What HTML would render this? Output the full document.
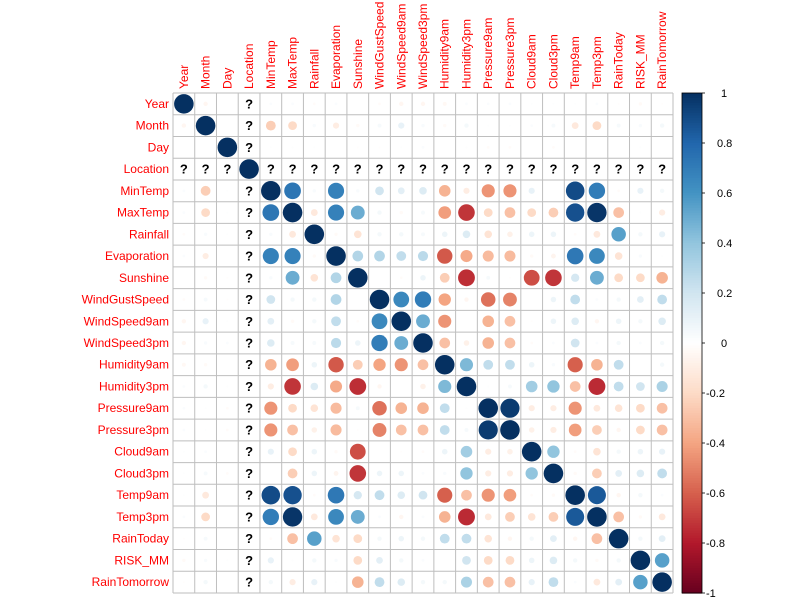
<!DOCTYPE html>
<html><head><meta charset="utf-8"><style>
body{margin:0;background:#fff;}
svg{display:block;font-family:"Liberation Sans",sans-serif;}
</style></head><body>
<svg id="c" width="800" height="600"></svg>
<script>
const vars=["Year","Month","Day","Location","MinTemp","MaxTemp","Rainfall","Evaporation","Sunshine","WindGustSpeed","WindSpeed9am","WindSpeed3pm","Humidity9am","Humidity3pm","Pressure9am","Pressure3pm","Cloud9am","Cloud3pm","Temp9am","Temp3pm","RainToday","RISK_MM","RainTomorrow"];
const lowerTri=[
[],
[-0.05],
[0,0],
[null,null,null],
[0.02,-0.25,0.01,null],
[0.02,-0.2,0.01,null,0.73],
[-0.02,0.03,0.01,null,0.03,-0.12],
[0.02,-0.1,0,null,0.68,0.68,-0.03],
[0,-0.03,-0.01,null,0.03,0.5,-0.15,0.3],
[-0.02,0.04,-0.01,null,0.2,0.05,0.05,0.3,0],
[-0.05,0.1,0.01,null,0.12,-0.03,0.05,0.25,-0.02,0.65],
[-0.05,0.03,0.02,null,0.15,0.04,0.04,0.27,0.08,0.7,0.5],
[-0.04,-0.03,0,null,-0.35,-0.42,0.08,-0.62,-0.25,-0.4,-0.45,-0.3],
[0.02,0.05,0.01,null,-0.1,-0.72,0.15,-0.38,-0.74,-0.05,0,-0.08,0.45],
[0.02,0.01,-0.02,null,-0.45,-0.2,-0.15,-0.32,0.04,-0.55,-0.35,-0.35,0.25,0.01],
[0.02,0.01,-0.02,null,-0.45,-0.3,-0.08,-0.32,-0.01,-0.5,-0.3,-0.3,0.25,0.04,0.96],
[0.01,0.02,0,null,0.1,-0.2,0.08,-0.03,-0.65,0,-0.01,-0.02,0.08,0.35,-0.1,-0.08],
[0.01,0.04,-0.02,null,0,-0.25,0.08,-0.06,-0.72,0.08,0.08,0.02,0.03,0.4,-0.1,-0.1,0.4],
[0.01,-0.12,0,null,0.9,0.88,-0.02,0.72,0.18,0.25,0.15,0.2,-0.6,-0.3,-0.45,-0.42,-0.02,-0.03],
[0.02,-0.2,0,null,0.7,0.98,-0.12,0.65,0.5,0.02,-0.05,0.02,-0.35,-0.75,-0.12,-0.25,-0.15,-0.25,0.85],
[-0.01,0.04,0,null,-0.02,-0.3,0.55,-0.15,-0.2,0.05,0.08,0.05,0.25,0.25,-0.15,-0.05,0.05,0.12,-0.05,-0.3],
[-0.03,0.03,0.01,null,0.1,0.01,0.05,0.03,-0.2,0.12,0.05,0.02,0,0.2,-0.2,-0.2,0.08,0.15,0.05,-0.03,0.05],
[-0.01,0.05,0,null,0.05,-0.1,0.1,0.01,-0.35,0.25,0.15,0.05,0.05,0.32,-0.3,-0.3,0.1,0.25,0.02,-0.12,0.12,0.55]
];
const legendTicks=[1,0.8,0.6,0.4,0.2,0,-0.2,-0.4,-0.6,-0.8,-1];
const pal=["#67001F","#B2182B","#D6604D","#F4A582","#FDDBC7","#FFFFFF","#D1E5F0","#92C5DE","#4393C3","#2166AC","#053061"];

const NS="http://www.w3.org/2000/svg";
const svg=document.getElementById('c');
const L=173,T=93,S=500,n=vars.length,cs=S/n;
function mk(t,a,p){const e=document.createElementNS(NS,t);for(const k in a)e.setAttribute(k,a[k]);(p||svg).appendChild(e);return e;}
function hex(h){return [1,3,5].map(i=>parseInt(h.substr(i,2),16));}
function col(v){const t=(v+1)/2*(pal.length-1);const i=Math.min(pal.length-2,Math.floor(t));const f=t-i;const a=hex(pal[i]),b=hex(pal[i+1]);return "rgb("+a.map((x,k)=>Math.round(x+(b[k]-x)*f)).join(",")+")";}
function val(i,j){if(i===j)return 1;return i>j?lowerTri[i][j]:lowerTri[j][i];}
const xC=j=>L+(j+0.5)*cs, yC=i=>T+(i+0.5)*cs;

for(let i=0;i<n;i++){
  for(let j=0;j<n;j++){
    const v=val(i,j);
    if(v===null){
      const q=mk('text',{x:xC(j),y:yC(i)+4.5,'text-anchor':'middle','font-size':'13','font-weight':'bold',fill:'#000'});
      q.textContent='?';
      
      
    } else if(v!==0){
      const c=mk('circle',{cx:xC(j),cy:yC(i),r:0.9*Math.sqrt(Math.abs(v))*cs/2,fill:col(v)});
      
      
    }
  }
}
for(let k=0;k<=n;k++){
  mk('line',{x1:L,x2:L+S,y1:T+k*cs,y2:T+k*cs,stroke:'#bebebe','stroke-width':1});
  mk('line',{y1:T,y2:T+S,x1:L+k*cs,x2:L+k*cs,stroke:'#bebebe','stroke-width':1});
}
vars.forEach((v,i)=>{
  const r=mk('text',{x:L-4,y:yC(i)+4,'text-anchor':'end','font-size':'12',fill:'#FF0000'});
  r.textContent=v;
  
  
  const c=mk('text',{x:0,y:0,'font-size':'12',fill:'#FF0000',transform:'translate('+(xC(i)+4)+','+(T-4)+') rotate(-90)'});
  c.textContent=v;
  
  
});
// colorbar
const bx=682,bw=20,steps=200;
for(let k=0;k<steps;k++){
  const v=1-(k+0.5)/steps*2;
  mk('rect',{x:bx,y:T+k*S/steps,width:bw,height:S/steps+0.6,fill:col(v)});
}
const cb=mk('rect',{x:bx,y:T,width:bw,height:S,fill:'none',stroke:'#000','stroke-width':0.8});


legendTicks.forEach(t=>{
  const y=T+(1-t)/2*S;
  mk('line',{x1:bx+bw,x2:bx+bw+3,y1:y,y2:y,stroke:'#000','stroke-width':0.8});
  const s=String(t);
  const lx=s.length===1?721:(t<0?706:717);
  const tx=mk('text',{x:lx,y:y+4,'font-size':'11',fill:'#000'});
  tx.textContent=s;
  
  
});
</script>
</body></html>
